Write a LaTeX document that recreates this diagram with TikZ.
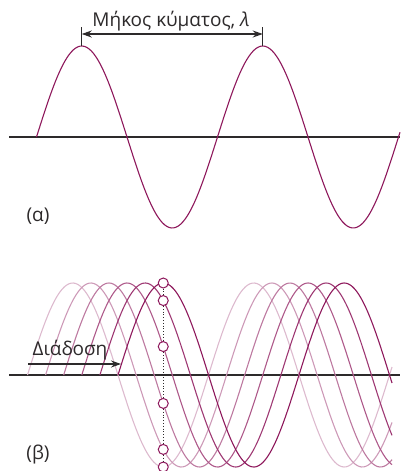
\documentclass[tikz,border=0pt]{standalone}
\usepackage{fontspec}
\setmainfont{Open Sans}
\usetikzlibrary{arrows.meta}
\definecolor{kyma}{RGB}{142,24,92}
\definecolor{axgray}{RGB}{45,42,43}
\tikzset{
  axon/.style={draw=axgray, line width=1.2pt},
  kymagr/.style={line width=1.1pt, samples=160, smooth},
  dimarrow/.style={draw=axgray, line width=1.1pt, {Stealth[length=10pt,width=7pt]}-{Stealth[length=10pt,width=7pt]}},
  simeio/.style={circle, draw=kyma, fill=white, line width=1pt, minimum size=10pt, inner sep=0pt},
  etiketa/.style={font=\fontsize{19}{21}\selectfont, text=axgray, inner sep=0pt},
}
\begin{document}
\begin{tikzpicture}[x=1pt, y=-1pt]
  \useasboundingbox (0,0) rectangle (400,471);

  % --- 1. Μήκος κύματος ---
  \draw[axon] (9,137) -- (400,137);
  \draw[kymagr, color=kyma, domain=36.5:400] plot (\x, {137-91*sin((\x-36.5)/181*360)});

  \coordinate (korA) at (81.75,46);
  \coordinate (korB) at (262.75,46);
  \coordinate (dimA) at (81.75,34);
  \coordinate (dimB) at (262.75,34);
  \draw[axgray, line width=1.1pt] (korA) -- ++(0,-19);
  \draw[axgray, line width=1.1pt] (korB) -- ++(0,-19);
  \draw[dimarrow] (dimA) -- (dimB);
  \node[etiketa, anchor=base] (titlos) at (171,27) {Μήκος κύματος, {\itshape λ}};

  \node[etiketa] (alpha) at (38,216) {(α)};

  % --- 2. Διάδοση ---
  \draw[axon] (9,375) -- (400,375);
  \foreach \i/\tonos in {0/30,1/44,2/58,3/72,4/86,5/100} {
    \pgfmathsetmacro{\arxi}{27.5+18.1*\i}
    \draw[kymagr, color=kyma!\tonos, domain=\arxi:392] plot (\x, {375-92*sin((\x-\arxi)/181*360)});
  }

  % σημεία στην κατακόρυφη
  \foreach \i in {0,...,5} {
    \pgfmathsetmacro{\arxi}{27.5+18.1*\i}
    \node[simeio] (c\i) at (163.25, {375-92*sin((163.25-\arxi)/181*360)}) {};
  }
  \foreach \a/\b in {c5/c4,c4/c3,c3/c2,c2/c1,c1/c0}
    \draw[dotted, axgray, line width=0.8pt] (\a) -- (\b);

  \coordinate (diaA) at (28,364);
  \coordinate (diaB) at (121,364);
  \draw[axgray, line width=1.1pt, -{Stealth[length=10pt,width=7pt]}] (diaA) -- (diaB);
  \node[etiketa, anchor=base] (diadosi) at (70,355) {Διάδοση};

  \node[etiketa] (beta) at (38,455) {(β)};
\end{tikzpicture}
\end{document}
